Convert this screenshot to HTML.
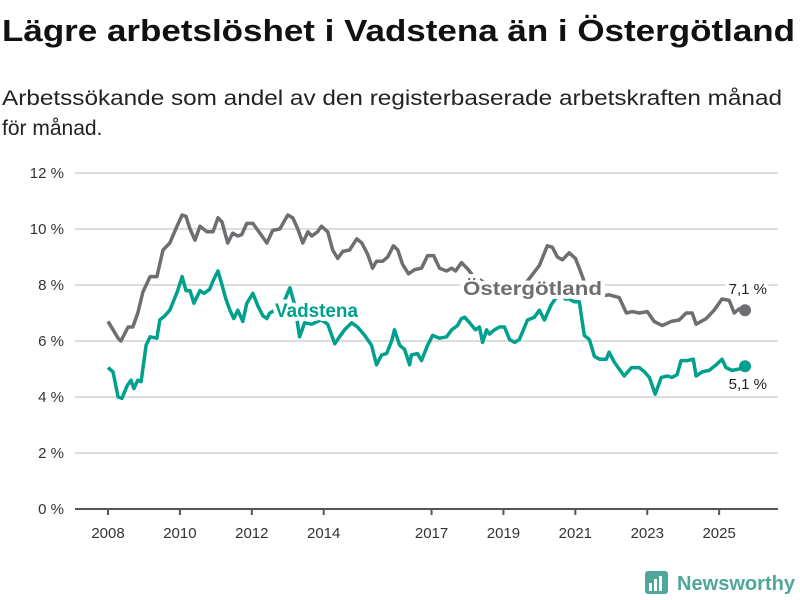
<!DOCTYPE html>
<html><head><meta charset="utf-8"><style>
html,body{margin:0;padding:0;background:#fff;}
svg{display:block;font-family:"Liberation Sans","DejaVu Sans",sans-serif;}
</style></head><body>
<svg id="chart" width="800" height="600" viewBox="0 0 800 600" xmlns="http://www.w3.org/2000/svg">
<text x="2" y="41" font-size="31" font-weight="bold" fill="#111" textLength="793" lengthAdjust="spacingAndGlyphs">Lägre arbetslöshet i Vadstena än i Östergötland</text>
<text x="2" y="105" font-size="21" fill="#222" textLength="780" lengthAdjust="spacingAndGlyphs">Arbetssökande som andel av den registerbaserade arbetskraften månad</text>
<text x="2" y="135" font-size="21" fill="#222">för månad.</text>
<g id="grid"></g>
<g id="series"></g>
<g id="labels"></g>
<g>
<rect x="645" y="571" width="23" height="23" rx="3" fill="#4fa79a"/>
<rect x="649" y="583" width="3" height="8" fill="#fff"/>
<rect x="654" y="579" width="3" height="12" fill="#fff"/>
<rect x="659" y="576" width="3" height="15" fill="#fff"/>
<text x="677" y="590" font-size="20" font-weight="bold" fill="#4fa79a" textLength="118" lengthAdjust="spacingAndGlyphs">Newsworthy</text>
</g>
</svg>
<script>
const yTicks = [0, 2, 4, 6, 8, 10, 12];
const yTickLabels = ["0 %", "2 %", "4 %", "6 %", "8 %", "10 %", "12 %"];
const xTicks = [2008, 2010, 2012, 2014, 2017, 2019, 2021, 2023, 2025];
const xTickLabels = ["2008", "2010", "2012", "2014", "2017", "2019", "2021", "2023", "2025"];
const ostYears = [2008.00,2008.28,2008.36,2008.56,2008.69,2008.83,2008.97,2009.17,2009.36,2009.53,2009.72,2009.92,2010.06,2010.17,2010.28,2010.42,2010.56,2010.75,2010.92,2011.06,2011.17,2011.33,2011.47,2011.61,2011.72,2011.86,2012.03,2012.17,2012.42,2012.58,2012.78,2013.00,2013.14,2013.28,2013.42,2013.56,2013.67,2013.83,2013.94,2014.11,2014.25,2014.39,2014.53,2014.72,2014.92,2015.06,2015.22,2015.36,2015.47,2015.64,2015.78,2015.94,2016.06,2016.19,2016.36,2016.53,2016.72,2016.89,2017.06,2017.22,2017.42,2017.56,2017.67,2017.83,2017.99,2018.17,2018.6,2019.17,2019.58,2020.0,2020.22,2020.36,2020.5,2020.64,2020.83,2021.0,2021.11,2021.31,2021.67,2021.94,2022.22,2022.42,2022.58,2022.78,2023.0,2023.19,2023.42,2023.67,2023.89,2024.08,2024.25,2024.36,2024.64,2024.86,2025.08,2025.28,2025.42,2025.56,2025.72];
const ostValues = [6.7,6.1,6.0,6.5,6.5,7.0,7.75,8.3,8.3,9.25,9.5,10.1,10.5,10.45,10.0,9.6,10.1,9.9,9.9,10.4,10.25,9.5,9.85,9.75,9.8,10.2,10.2,9.95,9.5,9.95,10.0,10.5,10.4,10.0,9.5,9.9,9.75,9.9,10.1,9.9,9.25,8.95,9.2,9.25,9.65,9.5,9.1,8.6,8.85,8.85,9.0,9.4,9.25,8.75,8.4,8.55,8.6,9.05,9.05,8.6,8.5,8.6,8.5,8.8,8.6,8.3,8.0,7.9,8.0,8.7,9.4,9.35,9.0,8.9,9.15,8.95,8.6,7.9,7.6,7.65,7.55,7.0,7.05,7.0,7.05,6.7,6.55,6.7,6.75,7.0,7.0,6.6,6.8,7.1,7.5,7.45,7.0,7.15,7.1];
const vadYears = [2008.00,2008.14,2008.28,2008.39,2008.53,2008.64,2008.72,2008.83,2008.92,2009.06,2009.17,2009.36,2009.44,2009.58,2009.72,2009.83,2009.94,2010.06,2010.17,2010.28,2010.39,2010.56,2010.67,2010.83,2010.94,2011.06,2011.17,2011.28,2011.39,2011.5,2011.61,2011.75,2011.86,2012.03,2012.17,2012.31,2012.42,2012.5,2012.64,2012.83,2013.06,2013.19,2013.33,2013.47,2013.67,2013.83,2013.94,2014.11,2014.31,2014.44,2014.58,2014.78,2014.94,2015.14,2015.33,2015.47,2015.61,2015.75,2015.89,2015.97,2016.11,2016.25,2016.39,2016.44,2016.61,2016.72,2016.89,2017.03,2017.22,2017.42,2017.56,2017.72,2017.83,2017.92,2018.06,2018.22,2018.33,2018.42,2018.53,2018.61,2018.75,2018.89,2019.03,2019.17,2019.31,2019.44,2019.67,2019.86,2020.0,2020.14,2020.33,2020.44,2020.61,2020.72,2020.83,2020.97,2021.11,2021.25,2021.39,2021.53,2021.67,2021.86,2021.94,2022.08,2022.36,2022.56,2022.78,2022.92,2023.06,2023.22,2023.39,2023.56,2023.69,2023.83,2023.94,2024.11,2024.28,2024.36,2024.53,2024.72,2024.92,2025.08,2025.19,2025.36,2025.56,2025.72];
const vadValues = [5.05,4.9,4.0,3.95,4.4,4.6,4.3,4.6,4.55,5.85,6.15,6.1,6.75,6.9,7.1,7.45,7.8,8.3,7.8,7.8,7.35,7.8,7.7,7.85,8.2,8.5,8.0,7.5,7.1,6.8,7.1,6.7,7.35,7.7,7.25,6.9,6.8,7.0,7.1,7.2,7.9,7.3,6.15,6.65,6.6,6.7,6.75,6.6,5.9,6.15,6.4,6.65,6.5,6.2,5.85,5.15,5.5,5.55,6.0,6.4,5.85,5.7,5.15,5.5,5.55,5.3,5.85,6.2,6.1,6.15,6.4,6.55,6.8,6.85,6.65,6.4,6.5,5.95,6.4,6.25,6.4,6.5,6.5,6.05,5.95,6.05,6.75,6.85,7.1,6.75,7.3,7.5,7.7,7.5,7.5,7.4,7.4,6.2,6.05,5.45,5.35,5.35,5.6,5.25,4.75,5.05,5.05,4.9,4.7,4.1,4.7,4.75,4.7,4.8,5.3,5.3,5.35,4.75,4.9,4.95,5.15,5.35,5.05,4.95,5.0,5.1];

const NS = "http://www.w3.org/2000/svg";
const xScale = y => 108 + (y - 2008) * 35.95;
const yScale = v => 509 - v * 28;
function mk(tag, attrs, parent) {
  const e = document.createElementNS(NS, tag);
  for (const k in attrs) e.setAttribute(k, attrs[k]);
  parent.appendChild(e);
  return e;
}
const grid = document.getElementById('grid');
const series = document.getElementById('series');
const labels = document.getElementById('labels');
yTicks.forEach((t, i) => {
  const isZero = t === 0;
  const l = mk('line', {x1: 75, x2: 778, y1: yScale(t), y2: yScale(t), stroke: isZero ? '#555' : '#ddd', 'stroke-width': 2}, grid);
  
  
  const tx = mk('text', {x: 64, y: yScale(t) + 5, 'font-size': 15, fill: '#333', 'text-anchor': 'end'}, grid);
  tx.textContent = yTickLabels[i];
  
  
});
xTicks.forEach((t, i) => {
  const l = mk('line', {x1: xScale(t), x2: xScale(t), y1: 509, y2: 515, stroke: '#555', 'stroke-width': 2}, grid);
  
  
  const tx = mk('text', {x: xScale(t), y: 538, 'font-size': 15, fill: '#333', 'text-anchor': 'middle'}, grid);
  tx.textContent = xTickLabels[i];
  
  
});
function drawLine(xs, vs, color, name) {
  const d = xs.map((x, i) => (i ? 'L' : 'M') + xScale(x).toFixed(1) + ',' + yScale(vs[i]).toFixed(1)).join('');
  const p = mk('path', {d: d, fill: 'none', stroke: color, 'stroke-width': 3.5, 'stroke-linejoin': 'round'}, series);
  
  
  const n = xs.length - 1;
  const c = mk('circle', {cx: xScale(xs[n]), cy: yScale(vs[n]), r: 6, fill: color}, series);
  
  
}
drawLine(ostYears, ostValues, '#6d6e71', 'ostergotland');
drawLine(vadYears, vadValues, '#00a08f', 'vadstena');
function lbl(x, y, txt, opts, name) {
  const t = mk('text', Object.assign({x: x, y: y}, opts), labels);
  t.textContent = txt;
  
  
}
const halo = {stroke: '#fff', 'stroke-width': 8, 'paint-order': 'stroke', 'stroke-linejoin': 'round'};
lbl(463, 295, 'Östergötland', Object.assign({'font-size': 19, 'font-weight': 'bold', fill: '#6d6e71', textLength: 139, lengthAdjust: 'spacingAndGlyphs'}, halo), 'ostergotland-label');
lbl(275, 317, 'Vadstena', Object.assign({'font-size': 19, 'font-weight': 'bold', fill: '#00a08f', textLength: 83, lengthAdjust: 'spacingAndGlyphs'}, halo), 'vadstena-label');
lbl(767, 294, '7,1 %', Object.assign({'font-size': 15, fill: '#222', 'text-anchor': 'end'}, halo), 'ostergotland-end-value');
lbl(767, 389, '5,1 %', Object.assign({'font-size': 15, fill: '#222', 'text-anchor': 'end'}, halo), 'vadstena-end-value');
</script>
</body></html>
